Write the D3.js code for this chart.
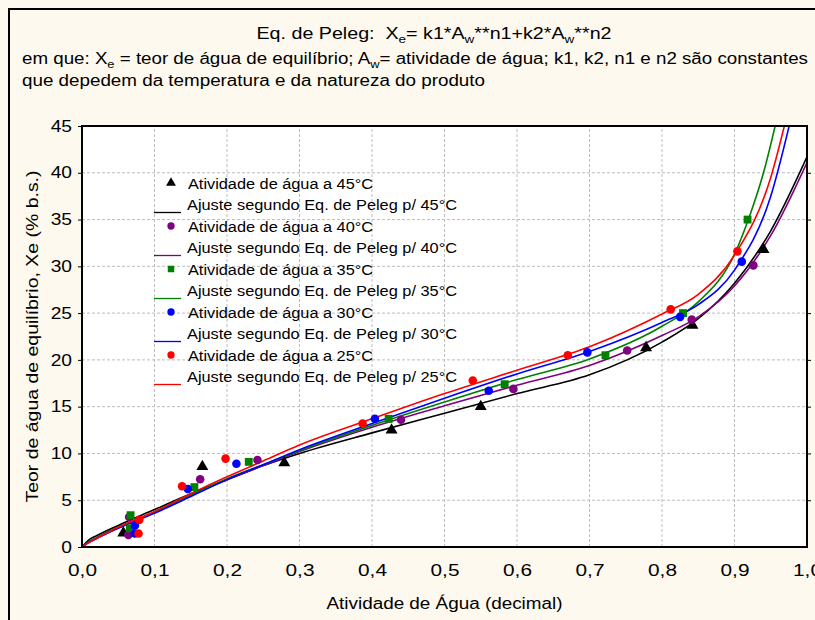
<!DOCTYPE html>
<html lang="pt">
<head>
  <meta charset="UTF-8">
  <title>Isotermas - Eq. de Peleg</title>
  <script src="https://d3js.org/d3.v7.min.js"></script>
  <style>
    body { margin: 0; background: #fdf9ee; }
    svg { display: block; font-family: "Liberation Sans", Arial, sans-serif; }
  </style>
</head>
<body>
<div id="chart"></div>
<script>
  const obs45 = [[0.057, 1.5], [0.166, 8.6], [0.279, 9.0], [0.427, 12.5], [0.55, 15.0], [0.778, 21.3], [0.842, 23.7], [0.94, 31.8]];
  const obs40 = [[0.064, 1.3], [0.065, 3.2], [0.163, 7.25], [0.242, 9.3], [0.44, 13.6], [0.595, 16.9], [0.752, 21.0], [0.841, 24.3], [0.926, 30.1]];
  const obs35 = [[0.066, 2.0], [0.067, 3.4], [0.155, 6.4], [0.23, 9.1], [0.423, 13.7], [0.583, 17.4], [0.722, 20.5], [0.829, 25.0], [0.918, 35.0]];
  const obs30 = [[0.073, 1.45], [0.073, 2.3], [0.146, 6.2], [0.213, 8.9], [0.404, 13.7], [0.561, 16.7], [0.697, 20.8], [0.825, 24.6], [0.91, 30.5]];
  const obs25 = [[0.078, 1.45], [0.079, 2.9], [0.138, 6.5], [0.198, 9.45], [0.387, 13.2], [0.539, 17.8], [0.67, 20.5], [0.812, 25.4], [0.904, 31.6]];

  // Fitted curves, points
  const fit45 = [[0, 0], [0.01, 0.8], [0.02, 1.2], [0.05, 2.3], [0.1, 4.0], [0.15, 5.7], [0.2, 7.2], [0.25, 8.7], [0.3, 10.0], [0.4, 12.2], [0.5, 14.3], [0.6, 16.4], [0.7, 18.4], [0.8, 21.9], [0.85, 24.4], [0.9, 28.2], [0.95, 33.8], [1.0, 41.7]];
  const fit40 = [[0, 0], [0.01, 0.6], [0.02, 1.0], [0.05, 2.1], [0.1, 3.7], [0.15, 5.5], [0.2, 7.2], [0.25, 8.7], [0.3, 10.2], [0.4, 12.8], [0.5, 15.1], [0.6, 17.3], [0.7, 19.4], [0.8, 22.6], [0.85, 24.6], [0.9, 27.9], [0.95, 33.3], [1.0, 41.1]];
  const fit35 = [[0, 0], [0.01, 0.6], [0.02, 1.0], [0.05, 2.1], [0.1, 3.7], [0.15, 5.5], [0.2, 7.3], [0.25, 8.8], [0.3, 10.3], [0.4, 13.0], [0.5, 15.5], [0.6, 17.9], [0.7, 20.1], [0.8, 23.6], [0.85, 26.2], [0.9, 31.3], [0.92, 35.2], [0.94, 40.0], [0.96, 46.3]];
  const fit30 = [[0, 0], [0.01, 0.5], [0.02, 0.9], [0.05, 2.0], [0.1, 3.6], [0.15, 5.4], [0.2, 7.2], [0.25, 8.8], [0.3, 10.4], [0.4, 13.2], [0.5, 15.9], [0.6, 18.5], [0.7, 20.9], [0.8, 24.0], [0.85, 25.9], [0.9, 29.6], [0.95, 37.5], [0.98, 46.5]];
  const fit25 = [[0, 0], [0.01, 0.5], [0.02, 0.9], [0.05, 2.1], [0.1, 3.8], [0.15, 5.7], [0.2, 7.5], [0.25, 9.2], [0.3, 10.9], [0.4, 13.7], [0.5, 16.4], [0.6, 18.9], [0.7, 21.4], [0.8, 24.9], [0.85, 27.0], [0.9, 31.2], [0.95, 39.5], [0.975, 47]];

  const temps = ["45", "40", "35", "30", "25"];
  const xTicks = [0, 0.1, 0.2, 0.3, 0.4, 0.5, 0.6, 0.7, 0.8, 0.9, 1.0];
  const yTicks = [0, 5, 10, 15, 20, 25, 30, 35, 40, 45];

  const series = [
    { t: temps[0], color: "#000000", symbol: d3.symbolTriangle, obs: obs45, fit: fit45 },
    { t: temps[1], color: "#800080", symbol: d3.symbolCircle, obs: obs40, fit: fit40 },
    { t: temps[2], color: "#008000", symbol: d3.symbolSquare, obs: obs35, fit: fit35 },
    { t: temps[3], color: "#0000ff", symbol: d3.symbolCircle, obs: obs30, fit: fit30 },
    { t: temps[4], color: "#ff0000", symbol: d3.symbolCircle, obs: obs25, fit: fit25 }
  ];

  const width = 815, height = 620;
  const margin = { top: 126, right: 8, bottom: 73, left: 82 };

  // the reference font is drawn wider than Arial: stretch each text horizontally
  function stretch(sel, k) {
    sel.each(function() {
      const w = this.getComputedTextLength();
      d3.select(this).attr("textLength", w * k).attr("lengthAdjust", "spacingAndGlyphs");
    });
  }

  const svg = d3.select("#chart").append("svg")
    .attr("width", width)
    .attr("height", height);

  // page background + outer frame (only left/top edges fall inside the view)
  svg.append("rect").attr("width", width).attr("height", height).attr("fill", "#fdf9ee");
  svg.append("rect")
    .attr("x", 9).attr("y", 9).attr("width", 840).attr("height", 640)
    .attr("fill", "none").attr("stroke", "#000").attr("stroke-width", 2);

  // Title block
  const title = svg.append("text")
    .attr("x", 434).attr("y", 39)
    .attr("text-anchor", "middle")
    .attr("textLength", 355).attr("lengthAdjust", "spacingAndGlyphs")
    .style("font-size", "16px");
  title.append("tspan").text("Eq. de Peleg:\u00a0 X");
  title.append("tspan").attr("dy", 4).style("font-size", "11px").text("e");
  title.append("tspan").attr("dy", -4).text("= k1*A");
  title.append("tspan").attr("dy", 4).style("font-size", "11px").text("w");
  title.append("tspan").attr("dy", -4).text("**n1+k2*A");
  title.append("tspan").attr("dy", 4).style("font-size", "11px").text("w");
  title.append("tspan").attr("dy", -4).text("**n2");

  const sub = svg.append("text")
    .attr("x", 22).attr("y", 64)
    .attr("textLength", 786).attr("lengthAdjust", "spacingAndGlyphs")
    .style("font-size", "16px");
  sub.append("tspan").text("em que: X");
  sub.append("tspan").attr("dy", 4).style("font-size", "11px").text("e");
  sub.append("tspan").attr("dy", -4).text(" = teor de água de equilíbrio; A");
  sub.append("tspan").attr("dy", 4).style("font-size", "11px").text("w");
  sub.append("tspan").attr("dy", -4).text("= atividade de água; k1, k2, n1 e n2 são constantes");

  svg.append("text")
    .attr("x", 22).attr("y", 86)
    .attr("textLength", 463).attr("lengthAdjust", "spacingAndGlyphs")
    .style("font-size", "16px")
    .text("que depedem da temperatura e da natureza do produto");

  // Scales
  const x = d3.scaleLinear().domain([0, 1]).range([margin.left, width - margin.right]);
  const y = d3.scaleLinear().domain([0, 45]).range([height - margin.bottom, margin.top]);

  // plot area
  svg.append("rect")
    .attr("x", x(0)).attr("y", y(45))
    .attr("width", x(1) - x(0)).attr("height", y(0) - y(45))
    .attr("fill", "#fff");

  svg.append("clipPath").attr("id", "plotClip")
    .append("rect")
    .attr("x", x(0)).attr("y", y(45))
    .attr("width", x(1) - x(0)).attr("height", y(0) - y(45));

  // grid
  svg.append("g")
    .selectAll("line")
    .data(xTicks.slice(1, -1))
    .join("line")
    .attr("x1", d => x(d)).attr("x2", d => x(d))
    .attr("y1", y(0)).attr("y2", y(45))
    .attr("stroke", "#bdbdbd").attr("stroke-dasharray", "3,2");
  svg.append("g")
    .selectAll("line")
    .data(yTicks.slice(1, -1))
    .join("line")
    .attr("x1", x(0)).attr("x2", x(1))
    .attr("y1", d => y(d)).attr("y2", d => y(d))
    .attr("stroke", "#bdbdbd").attr("stroke-dasharray", "3,2");

  // axes
  const fmt = d => d3.format(".1f")(d).replace(".", ",");
  const xAxis = svg.append("g")
    .attr("transform", `translate(0,${y(0)})`)
    .call(d3.axisBottom(x).tickValues(xTicks).tickFormat(fmt).tickSize(0).tickPadding(18));
  xAxis.select(".domain").remove();
  xAxis.selectAll("text").style("font-size", "16px").style("fill", "#000").attr("font-family", null)
    .call(stretch, 1.3);

  const yAxis = svg.append("g")
    .attr("transform", `translate(${x(0)},0)`)
    .call(d3.axisLeft(y).tickValues(yTicks).tickSize(4).tickPadding(6));
  yAxis.select(".domain").remove();
  yAxis.selectAll("text").style("font-size", "16px").style("fill", "#000").attr("font-family", null)
    .call(stretch, 1.2);

  const yRight = svg.append("g")
    .attr("transform", `translate(${x(1)},0)`)
    .call(d3.axisLeft(y).tickValues(yTicks.slice(1, -1)).tickSize(-4).tickFormat(""));
  yRight.select(".domain").remove();

  // fitted curves
  const line = d3.line()
    .x(d => x(d[0]))
    .y(d => y(d[1]))
    .curve(d3.curveMonotoneX);

  const curves = svg.append("g").attr("clip-path", "url(#plotClip)");
  curves.selectAll("path")
    .data(series)
    .join("path")
    .attr("d", d => line(d.fit))
    .attr("fill", "none")
    .attr("stroke", d => d.color)
    .attr("stroke-width", 1.6);

  // observed points
  const symSize = s => s === d3.symbolCircle ? 58 : 62;
  series.forEach(s => {
    svg.append("g")
      .selectAll("path")
      .data(s.obs)
      .join("path")
      .attr("transform", d => `translate(${x(d[0])},${y(d[1])})`)
      .attr("d", d3.symbol(s.symbol, symSize(s.symbol)))
      .attr("fill", s.color);
  });

  // plot frame
  svg.append("rect")
    .attr("x", x(0)).attr("y", y(45))
    .attr("width", x(1) - x(0)).attr("height", y(0) - y(45))
    .attr("fill", "none").attr("stroke", "#000").attr("stroke-width", 2);

  // axis titles
  svg.append("text")
    .attr("x", (x(0) + x(1)) / 2).attr("y", 609)
    .attr("text-anchor", "middle")
    .attr("textLength", 236).attr("lengthAdjust", "spacingAndGlyphs")
    .style("font-size", "16px")
    .text("Atividade de Água (decimal)");

  svg.append("text")
    .attr("transform", `translate(38,${(y(0) + y(45)) / 2}) rotate(-90)`)
    .attr("text-anchor", "middle")
    .attr("textLength", 332).attr("lengthAdjust", "spacingAndGlyphs")
    .style("font-size", "16px")
    .text("Teor de água de equilíbrio, Xe (% b.s.)");

  // legend
  const legend = svg.append("g");
  const rowH = 21.5, row0 = 183;
  series.forEach((s, i) => {
    const yPt = row0 + i * 2 * rowH;
    const yLn = yPt + rowH;
    legend.append("path")
      .attr("transform", `translate(171,${yPt})`)
      .attr("d", d3.symbol(s.symbol, 42))
      .attr("fill", s.color);
    legend.append("text")
      .attr("x", 188).attr("y", yPt + 5.5)
      .attr("textLength", 185).attr("lengthAdjust", "spacingAndGlyphs")
      .style("font-size", "15.5px")
      .text(`Atividade de água a ${s.t}°C`);
    legend.append("line")
      .attr("x1", 154).attr("x2", 181)
      .attr("y1", yLn + 8).attr("y2", yLn + 8)
      .attr("stroke", s.color).attr("stroke-width", 1.3);
    legend.append("text")
      .attr("x", 187).attr("y", yLn + 5.5)
      .attr("textLength", 270).attr("lengthAdjust", "spacingAndGlyphs")
      .style("font-size", "15.5px")
      .text(`Ajuste segundo Eq. de Peleg p/ ${s.t}°C`);
  });
</script>
</body>
</html>
